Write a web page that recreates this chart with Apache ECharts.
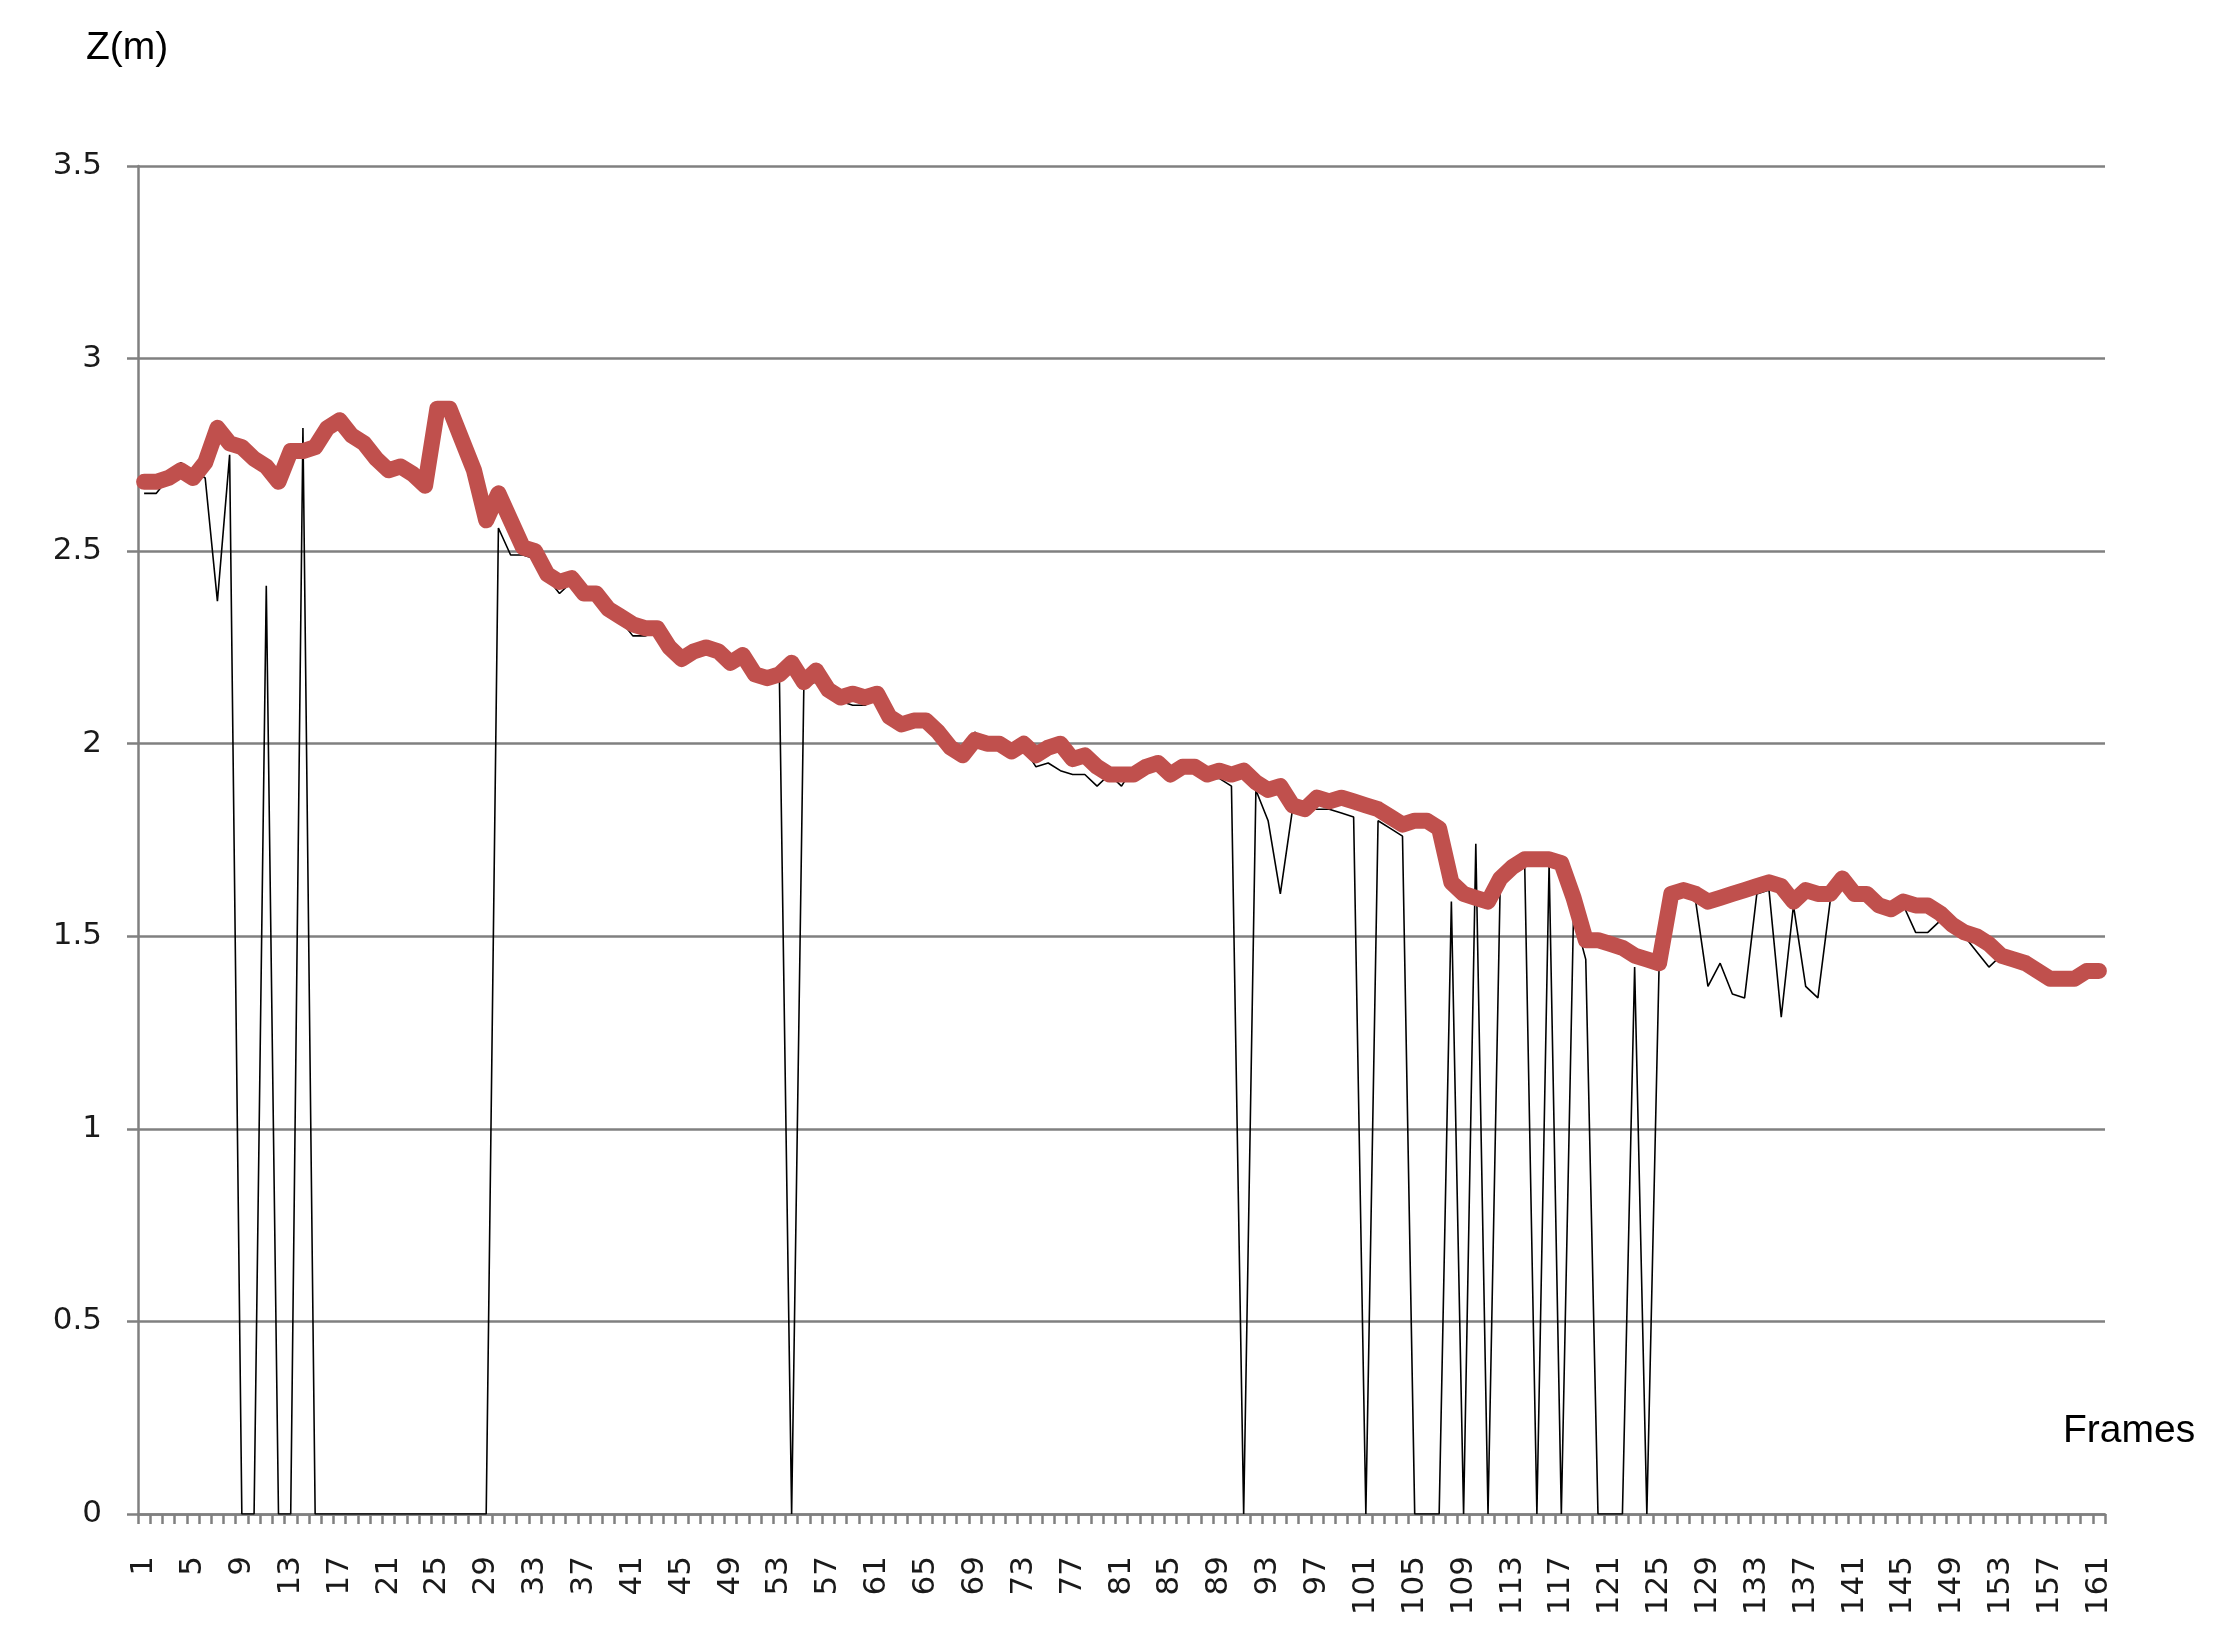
<!DOCTYPE html>
<html>
<head>
<meta charset="utf-8">
<script src="https://cdn.jsdelivr.net/npm/echarts@6/dist/echarts.min.js"></script>
<style>
  html, body { margin: 0; padding: 0; background: #ffffff; }
  #chart { width: 2223px; height: 1651px; }
</style>
</head>
<body>
<div id="chart"></div>
<script>
// Frame numbers (categories)
var frames = Array.from({ length: 161 }, function (_, k) { return String(k + 1); });

// Y axis ticks
var yTicks = [0, 0.5, 1, 1.5, 2, 2.5, 3, 3.5];

// Raw Z values (black thin line, with dropouts to 0)
var rawZ = [
  2.65, 2.65, 2.69, 2.73, 2.71, 2.69, 2.37, 2.75, 0, 0,
  2.41, 0, 0, 2.82, 0, 0, 0, 0, 0, 0,
  0, 0, 0, 0, 0, 0, 0, 0, 0, 2.56,
  2.49, 2.49, 2.48, 2.43, 2.39, 2.42, 2.39, 2.38, 2.33, 2.32,
  2.28, 2.28, 2.29, 2.25, 2.24, 2.25, 2.25, 2.23, 2.21, 2.22,
  2.18, 2.17, 2.17, 0, 2.15, 2.16, 2.14, 2.11, 2.10, 2.10,
  2.12, 2.07, 2.05, 2.05, 2.05, 2.02, 2.00, 1.98, 2.03, 2.00,
  1.99, 1.98, 1.99, 1.94, 1.95, 1.93, 1.92, 1.92, 1.89, 1.92,
  1.89, 1.94, 1.93, 1.94, 1.92, 1.93, 1.93, 1.91, 1.91, 1.89,
  0, 1.88, 1.80, 1.61, 1.83, 1.83, 1.83, 1.83, 1.82, 1.81,
  0, 1.80, 1.78, 1.76, 0, 0, 0, 1.59, 0, 1.74,
  0, 1.64, 1.67, 1.69, 0, 1.69, 0, 1.56, 1.44, 0,
  0, 0, 1.42, 0, 1.42, 1.61, 1.62, 1.59, 1.37, 1.43,
  1.35, 1.34, 1.61, 1.62, 1.29, 1.58, 1.37, 1.34, 1.59, 1.64,
  1.60, 1.60, 1.58, 1.57, 1.58, 1.51, 1.51, 1.54, 1.52, 1.50,
  1.46, 1.42, 1.45, 1.44, 1.43, 1.41, 1.39, 1.39, 1.39, 1.40,
  1.40
];

// Filtered Z values (thick red line)
var filteredZ = [
  2.68, 2.68, 2.69, 2.71, 2.69, 2.73, 2.82, 2.78, 2.77, 2.74,
  2.72, 2.68, 2.76, 2.76, 2.77, 2.82, 2.84, 2.80, 2.78, 2.74,
  2.71, 2.72, 2.70, 2.67, 2.87, 2.87, 2.79, 2.71, 2.58, 2.65,
  2.58, 2.51, 2.50, 2.44, 2.42, 2.43, 2.39, 2.39, 2.35, 2.33,
  2.31, 2.30, 2.30, 2.25, 2.22, 2.24, 2.25, 2.24, 2.21, 2.23,
  2.18, 2.17, 2.18, 2.21, 2.16, 2.19, 2.14, 2.12, 2.13, 2.12,
  2.13, 2.07, 2.05, 2.06, 2.06, 2.03, 1.99, 1.97, 2.01, 2.00,
  2.00, 1.98, 2.00, 1.97, 1.99, 2.00, 1.96, 1.97, 1.94, 1.92,
  1.92, 1.92, 1.94, 1.95, 1.92, 1.94, 1.94, 1.92, 1.93, 1.92,
  1.93, 1.90, 1.88, 1.89, 1.84, 1.83, 1.86, 1.85, 1.86, 1.85,
  1.84, 1.83, 1.81, 1.79, 1.80, 1.80, 1.78, 1.64, 1.61, 1.60,
  1.59, 1.65, 1.68, 1.70, 1.70, 1.70, 1.69, 1.60, 1.49, 1.49,
  1.48, 1.47, 1.45, 1.44, 1.43, 1.61, 1.62, 1.61, 1.59, 1.60,
  1.61, 1.62, 1.63, 1.64, 1.63, 1.59, 1.62, 1.61, 1.61, 1.65,
  1.61, 1.61, 1.58, 1.57, 1.59, 1.58, 1.58, 1.56, 1.53, 1.51,
  1.50, 1.48, 1.45, 1.44, 1.43, 1.41, 1.39, 1.39, 1.39, 1.41,
  1.41
];

var chart = echarts.init(document.getElementById('chart'), null, { renderer: 'canvas' });

var gridColor = '#808080';

chart.setOption({
  animation: false,
  backgroundColor: '#ffffff',
  grid: { left: 138, right: 118, top: 166, bottom: 137, containLabel: false },
  xAxis: {
    type: 'category',
    data: frames,
    boundaryGap: true,
    axisLine: { show: true, lineStyle: { color: gridColor, width: 2.5 } },
    axisTick: { show: true, interval: 0, length: 10, lineStyle: { color: gridColor, width: 2.5 } },
    axisLabel: {
      interval: 3,
      rotate: 90,
      margin: 42,
      fontFamily: 'DejaVu Sans',
      fontSize: 31,
      color: '#1a1a1a'
    },
    splitLine: { show: false }
  },
  yAxis: {
    type: 'value',
    min: yTicks[0],
    max: yTicks[yTicks.length - 1],
    interval: yTicks[1] - yTicks[0],
    axisLine: { show: true, lineStyle: { color: gridColor, width: 2.5 } },
    axisTick: { show: true, length: 11, lineStyle: { color: gridColor, width: 2.5 } },
    axisLabel: {
      margin: 36,
      fontFamily: 'DejaVu Sans',
      fontSize: 31,
      color: '#1a1a1a',
      padding: [12, 0, 0, 0]
    },
    splitLine: { show: true, lineStyle: { color: gridColor, width: 2.5 } }
  },
  graphic: [
    {
      type: 'text',
      left: 86,
      top: 29,
      style: { text: 'Z(m)', font: '39px "Liberation Sans"', fill: '#000000' }
    },
    {
      type: 'text',
      left: 2063,
      top: 1412,
      style: { text: 'Frames', font: '39px "Liberation Sans"', fill: '#000000' }
    }
  ],
  series: [
    {
      name: 'raw',
      type: 'line',
      data: rawZ,
      symbol: 'none',
      lineStyle: { color: '#000000', width: 1.6 },
      z: 2
    },
    {
      name: 'filtered',
      type: 'line',
      data: filteredZ,
      symbol: 'none',
      lineStyle: { color: '#c0504d', width: 16, cap: 'round', join: 'round' },
      z: 3
    }
  ]
});
</script>
</body>
</html>
